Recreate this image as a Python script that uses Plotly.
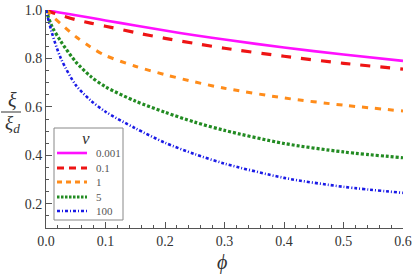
import plotly.graph_objects as go

phi = [0, 0.01, 0.025, 0.05, 0.075, 0.1, 0.15, 0.2, 0.25, 0.3, 0.4, 0.5, 0.6]

nu_labels = ["0.001", "0.1", "1", "5", "100"]
xi_001 = [1.0, 0.995, 0.989, 0.978, 0.968, 0.957, 0.936, 0.915, 0.896, 0.878, 0.845, 0.816, 0.790]
xi_01 = [1.0, 0.990, 0.978, 0.960, 0.946, 0.933, 0.907, 0.883, 0.862, 0.842, 0.809, 0.780, 0.756]
xi_1 = [1.0, 0.975, 0.943, 0.890, 0.847, 0.812, 0.768, 0.733, 0.703, 0.677, 0.637, 0.607, 0.583]
xi_5 = [1.0, 0.932, 0.870, 0.786, 0.726, 0.683, 0.624, 0.578, 0.537, 0.503, 0.449, 0.414, 0.390]
xi_100 = [1.0, 0.905, 0.800, 0.690, 0.627, 0.580, 0.512, 0.452, 0.405, 0.366, 0.307, 0.270, 0.245]

series = [xi_001, xi_01, xi_1, xi_5, xi_100]
colors = ["#FF10FF", "#EE1414", "#FF8C1A", "#228B22", "#1A1AE6"]
dashes = ["solid", "10px,10px", "6px,7px", "3px,2px", "3px,2px,1px,2px"]
legend_dashes = ["solid", "7px,5px", "5px,4px", "2.5px,1.5px", "3px,2px,1px,2px"]
widths = [2.6, 3.2, 3.0, 3.2, 2.6]

W, H = 414, 277
ML, MR, MT, MB = 46, 11, 10, 49
PW, PH = W - ML - MR, H - MT - MB


def px(xp):
    return (xp - ML) / PW


def py(yp):
    return (H - MB - yp) / PH


fig = go.Figure()
for lab, ys, c, d, w in zip(nu_labels, series, colors, dashes, widths):
    fig.add_trace(go.Scatter(
        x=phi, y=ys, mode="lines", name=lab, showlegend=False,
        line=dict(color=c, dash=d, width=w, shape="spline", smoothing=0.8),
    ))

serif = "Liberation Serif"
axis_common = dict(
    showline=True, linecolor="#555", linewidth=1, mirror=False,
    ticks="inside", ticklen=6, tickcolor="#555", tickwidth=1,
    showgrid=False, zeroline=False, automargin=False,
    tickfont=dict(family=serif, size=14, color="#333"),
)
fig.update_layout(
    width=W, height=H,
    margin=dict(l=ML, r=MR, t=MT, b=MB, autoexpand=False),
    paper_bgcolor="white", plot_bgcolor="white",
    xaxis=dict(range=[0, 0.6], dtick=0.1, tickformat=".1f",
               minor=dict(dtick=0.02, ticks="inside", ticklen=3, tickcolor="#555"),
               **axis_common),
    yaxis=dict(range=[0.1, 1.0], tick0=0.2, dtick=0.2, tickformat=".1f",
               minor=dict(dtick=0.05, ticks="inside", ticklen=3, tickcolor="#555"),
               **axis_common),
    showlegend=False,
)

# manual legend (Mathematica-style box)
fig.add_shape(type="rect", xref="paper", yref="paper",
              x0=px(54), x1=px(123), y0=py(220), y1=py(128),
              line=dict(color="#888", width=1), fillcolor="white", layer="above")
fig.add_annotation(xref="paper", yref="paper", x=px(86), y=py(138),
                   xanchor="center", yanchor="middle",
                   text="<i>ν</i>", showarrow=False,
                   font=dict(family=serif, size=17, color="#333"))
row_y = [153, 168, 182, 197, 211]
for lab, c, d, w, ry in zip(nu_labels, colors, legend_dashes, widths, row_y):
    fig.add_shape(type="line", xref="paper", yref="paper",
                  x0=px(57), x1=px(87), y0=py(ry), y1=py(ry),
                  line=dict(color=c, dash=d, width=w), layer="above")
    fig.add_annotation(xref="paper", yref="paper", x=px(94), y=py(ry),
                       xanchor="left", yanchor="middle",
                       text=lab, showarrow=False,
                       font=dict(family=serif, size=11, color="#555"))

# y label as fraction
fig.add_annotation(xref="paper", yref="paper", x=px(12), y=py(100),
                   xanchor="center", yanchor="middle",
                   text="<i>ξ</i>", showarrow=False,
                   font=dict(family=serif, size=20, color="#333"))
fig.add_annotation(xref="paper", yref="paper", x=px(12), y=py(124),
                   xanchor="center", yanchor="middle",
                   text="<i>ξ<sub>d</sub></i>", showarrow=False,
                   font=dict(family=serif, size=19, color="#333"))
fig.add_shape(type="line", xref="paper", yref="paper",
              x0=px(1), x1=px(21), y0=py(112), y1=py(112),
              line=dict(color="#333", width=1))
# x label
fig.add_annotation(xref="paper", yref="paper", x=px(222), y=py(262),
                   xanchor="center", yanchor="middle",
                   text="<i>ϕ</i>", showarrow=False,
                   font=dict(family=serif, size=20, color="#333"))

fig.write_html("out.html", config={"displayModeBar": False},
               post_script="document.body.style.margin='0';")
